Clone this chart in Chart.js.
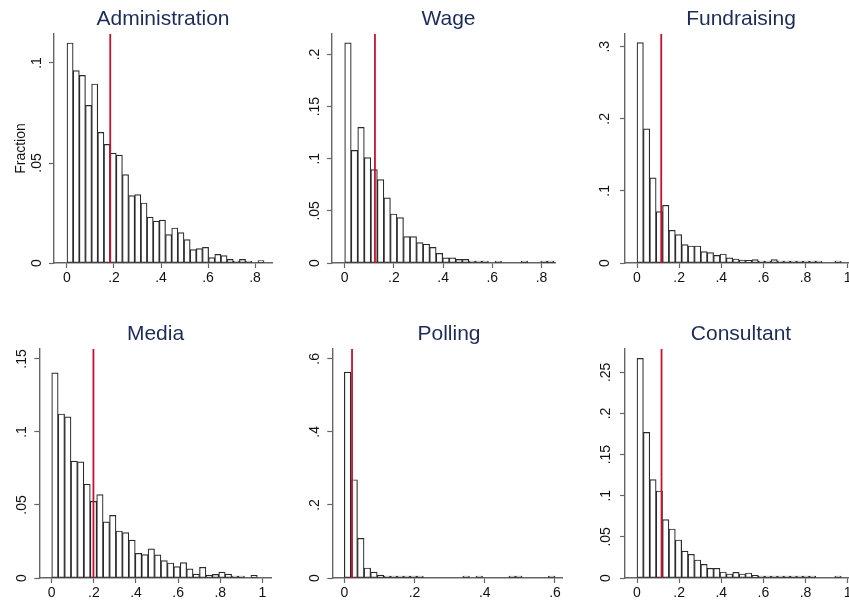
<!DOCTYPE html>
<html>
<head>
<meta charset="utf-8">
<script src="https://cdn.jsdelivr.net/npm/chart.js@4.4.1/dist/chart.umd.min.js"></script>
<style>
  html, body { margin: 0; padding: 0; background: #fff; overflow: hidden; }
  #wrap { position: relative; width: 849px; height: 606px; overflow: hidden; background: #fff; }
  #wrap canvas { position: absolute; }
</style>
</head>
<body>
<div id="wrap"></div>
<script>
// ---- Data: share of spending per campaign, histograms with 32 bins each ----
const panelTitles = ['Administration', 'Wage', 'Fundraising', 'Media', 'Polling', 'Consultant'];

// bin width of each histogram (bins start at 0)
const binWidths = [0.0262, 0.02656, 0.0303, 0.0305, 0.01875, 0.0303];

// fraction of observations in each bin
const administration = [0.110, 0.0962, 0.0938, 0.0788, 0.0895, 0.0653, 0.0593, 0.0549, 0.0539, 0.0442,
  0.0337, 0.0342, 0.0300, 0.0229, 0.0209, 0.0214, 0.0142, 0.0175, 0.0152, 0.0117,
  0.0067, 0.0072, 0.0078, 0.0027, 0.0043, 0.0037, 0.0018, 0.0010, 0.0018, 0.0007,
  0, 0.0012];
const wage = [0.2112, 0.108, 0.130, 0.101, 0.0896, 0.080, 0.0624, 0.047, 0.0435, 0.0253,
  0.0253, 0.0195, 0.018, 0.015, 0.0093, 0.005, 0.005, 0.0035, 0.0035, 0.0016,
  0.0019, 0.0013, 0, 0.0013, 0, 0, 0, 0.0013, 0, 0,
  0.0008, 0.0008];
const fundraising = [0.3056, 0.186, 0.118, 0.0713, 0.080, 0.0454, 0.0394, 0.0255, 0.0236, 0.0236,
  0.0157, 0.0144, 0.0106, 0.0125, 0.007, 0.0056, 0.0042, 0.0037, 0.0046, 0.0023,
  0.0023, 0.0046, 0.0019, 0.0014, 0.0014, 0.0014, 0.0019, 0.0014, 0.0009, 0,
  0, 0.0012];
const media = [0.1404, 0.1123, 0.1103, 0.0801, 0.0795, 0.0642, 0.0525, 0.0571, 0.0384, 0.0429,
  0.0322, 0.0311, 0.026, 0.0169, 0.016, 0.0199, 0.0158, 0.0119, 0.0103, 0.0078,
  0.0105, 0.0062, 0.0027, 0.0073, 0.002, 0.0025, 0.0041, 0.0027, 0.0014, 0.0014,
  0, 0.0018];
const polling = [0.5635, 0.269, 0.1087, 0.0274, 0.0164, 0.0082, 0.0046, 0.0027, 0.002, 0.0015,
  0.001, 0.001, 0, 0, 0, 0, 0, 0, 0.002, 0,
  0.002, 0, 0, 0, 0, 0.002, 0.002, 0, 0, 0,
  0, 0.002];
const consultant = [0.267, 0.177, 0.1195, 0.1058, 0.0709, 0.0596, 0.0462, 0.0328, 0.0288, 0.0219,
  0.0166, 0.0118, 0.0118, 0.0073, 0.0049, 0.0069, 0.0049, 0.0061, 0.0032, 0.0024,
  0.002, 0.002, 0.0012, 0.0016, 0.0008, 0.0016, 0.0004, 0.0012, 0, 0,
  0, 0.0008];
const panelValues = [administration, wage, fundraising, media, polling, consultant];

// mean share, marked with a vertical line
const meanShares = [0.184, 0.123, 0.115, 0.198, 0.022, 0.1165];

// tick labels
const yTickValues = [
  [0, 0.05, 0.1],
  [0, 0.05, 0.1, 0.15, 0.2],
  [0, 0.1, 0.2, 0.3],
  [0, 0.05, 0.1, 0.15],
  [0, 0.2, 0.4, 0.6],
  [0, 0.05, 0.1, 0.15, 0.2, 0.25]
];
const xTickValues = [
  [0, 0.2, 0.4, 0.6, 0.8],
  [0, 0.2, 0.4, 0.6, 0.8],
  [0, 0.2, 0.4, 0.6, 0.8, 1],
  [0, 0.2, 0.4, 0.6, 0.8, 1],
  [0, 0.2, 0.4, 0.6],
  [0, 0.2, 0.4, 0.6, 0.8, 1]
];

// axis ranges
const xMins = [-0.0553, -0.0516, -0.057, -0.059, -0.0342, -0.057];
const xMaxs = [0.8723, 0.855, 1.035, 1.041, 0.62, 1.035];
const yMaxs = [0.1145, 0.2196, 0.3176, 0.1568, 0.627, 0.2784];

// ---- Layout of the 2x3 grid (page pixels) ----
const layout = [
  { left: 0,   top: 0,   yW: 54,   right: 272, titleX: 163,   lblOff: 17.3, yTitle: 'Fraction' },
  { left: 292, top: 0,   yW: 40,   right: 555, titleX: 448.5, lblOff: 17.0 },
  { left: 585, top: 0,   yW: 40,   right: 855, titleX: 741,   lblOff: 19.5 },
  { left: 0,   top: 315, yW: 39.3, right: 271, titleX: 155.5, lblOff: 17.3 },
  { left: 292, top: 315, yW: 40.3, right: 562, titleX: 448.8, lblOff: 17.3 },
  { left: 585, top: 315, yW: 40,   right: 855, titleX: 741,   lblOff: 18.7 }
];

const FONT = "'Liberation Sans', Arial, Helvetica, sans-serif";
const TICK_FONT = { family: FONT, size: 14, lineHeight: 1.2 };
const TITLE_COLOR = '#1c2b5c';
const AXIS_COLOR = '#666666';
const EDGE_COLOR = '#2a2a2a';
const MEAN_COLOR = '#c8102e';
const TICK_LEN = 5;
const PANEL_H = 293;
const X_AXIS_H = 30;

const measureCtx = document.createElement('canvas').getContext('2d');
measureCtx.font = '14px ' + FONT;
function textWidth(t) { return measureCtx.measureText(t).width; }

function fmt(v) {
  if (v === 0) return '0';
  if (v === 1) return '1';
  return String(v).replace(/^0\./, '.');
}

const wrap = document.getElementById('wrap');

panelTitles.forEach((title, k) => {
  const L = layout[k];
  const w = Math.round(2 * (L.titleX - L.left));
  const padRight = L.left + w - L.right;

  const canvas = document.createElement('canvas');
  canvas.width = w;
  canvas.height = PANEL_H;
  canvas.style.left = L.left + 'px';
  canvas.style.top = L.top + 'px';
  canvas.style.width = w + 'px';
  canvas.style.height = PANEL_H + 'px';
  wrap.appendChild(canvas);

  const bw = binWidths[k];
  // empty bins are left out so that nothing is drawn for them
  const bars = panelValues[k].map((v, i) => ({ x: (i + 0.5) * bw, y: v > 0 ? v : null }));

  const yLabels = yTickValues[k].map(fmt);
  const widest = Math.max(...yLabels.map(textWidth));
  const yPad = L.lblOff - TICK_LEN - widest / 2;

  new Chart(canvas, {
    type: 'bar',
    data: {
      datasets: [
        {
          type: 'line',
          data: [{ x: meanShares[k], y: 0 }, { x: meanShares[k], y: yMaxs[k] }],
          borderColor: MEAN_COLOR,
          borderWidth: 1.8,
          pointRadius: 0,
          fill: false,
          order: 0
        },
        {
          type: 'bar',
          data: bars,
          backgroundColor: '#ffffff',
          borderColor: EDGE_COLOR,
          borderWidth: 1.2,
          borderSkipped: false,
          minBarLength: 2,
          barPercentage: 1,
          categoryPercentage: 1,
          order: 1
        }
      ]
    },
    options: {
      responsive: false,
      animation: false,
      devicePixelRatio: 1,
      events: [],
      layout: { padding: 0 },
      plugins: {
        legend: { display: false },
        tooltip: { enabled: false },
        title: {
          display: true,
          text: title,
          color: TITLE_COLOR,
          fullSize: true,
          font: { family: FONT, size: 21, weight: 'normal', lineHeight: 1.2 },
          padding: { top: 7.1, bottom: 1.7 }
        }
      },
      scales: {
        x: {
          type: 'linear',
          position: 'bottom',
          min: xMins[k],
          max: xMaxs[k],
          offset: false,
          afterFit: s => { s.height = X_AXIS_H; },
          afterBuildTicks: s => { s.ticks = xTickValues[k].map(v => ({ value: v })); },
          ticks: {
            callback: v => fmt(v),
            font: TICK_FONT,
            color: '#111',
            padding: 2,
            autoSkip: false,
            minRotation: 0,
            maxRotation: 0
          },
          grid: {
            display: true, offset: false, drawOnChartArea: false, drawTicks: true,
            tickLength: TICK_LEN, tickColor: AXIS_COLOR, tickWidth: 1.2
          },
          border: { display: true, color: AXIS_COLOR, width: 1.4 }
        },
        y: {
          type: 'linear',
          position: 'left',
          min: 0,
          max: yMaxs[k],
          afterFit: s => { s.width = L.yW; },
          afterBuildTicks: s => { s.ticks = yTickValues[k].map(v => ({ value: v })); },
          ticks: {
            callback: v => fmt(v),
            font: TICK_FONT,
            color: '#111',
            minRotation: 90,
            maxRotation: 90,
            crossAlign: 'center',
            padding: yPad,
            autoSkip: false
          },
          grid: {
            display: true, drawOnChartArea: false, drawTicks: true,
            tickLength: TICK_LEN, tickColor: AXIS_COLOR, tickWidth: 1.2
          },
          border: { display: true, color: AXIS_COLOR, width: 1.4 },
          title: {
            display: !!L.yTitle,
            text: L.yTitle || '',
            color: '#111',
            font: { family: FONT, size: 14, lineHeight: 1.2 },
            padding: { top: 12.6, bottom: 0 }
          }
        },
        gutter: {
          type: 'linear',
          position: 'right',
          display: true,
          afterFit: s => { s.width = padRight; },
          ticks: { display: false },
          grid: { display: false },
          border: { display: false }
        }
      }
    }
  });
});
</script>
</body>
</html>
